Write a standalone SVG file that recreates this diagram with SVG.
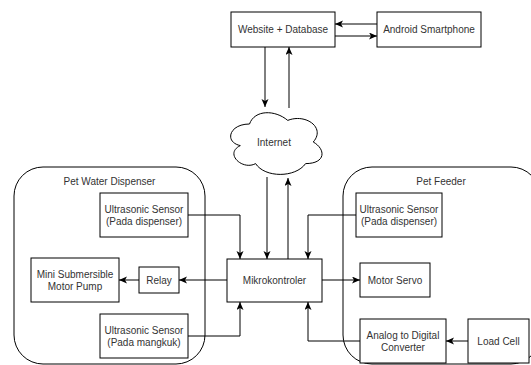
<svg xmlns="http://www.w3.org/2000/svg" width="531" height="365" viewBox="0 0 531 365">
<style>
.box{fill:#fff;stroke:#000;stroke-width:1}
.cont{fill:#fff;stroke:#000;stroke-width:1}
.t{font-family:"Liberation Sans",Arial,sans-serif;font-size:10px;fill:#333;text-anchor:middle;dominant-baseline:central}
.c{fill:none;stroke:#000;stroke-width:1;marker-end:url(#ah)}
</style>
<defs>
<marker id="ah" markerUnits="userSpaceOnUse" markerWidth="10" markerHeight="8" refX="8" refY="3.5" orient="auto">
<path d="M0,0 L8,3.5 L0,7 L2,3.5 z" fill="#000"/>
</marker>
</defs>
<rect width="531" height="365" fill="#fff"/>
<g id="pet-water-dispenser">
<rect class="cont" x="14" y="167" width="191" height="197" rx="29" ry="29"/>
<text class="t" x="109.5" y="181">Pet Water Dispenser</text>
</g>
<g id="pet-feeder">
<rect class="cont" x="343" y="167" width="197" height="197" rx="29" ry="29"/>
<text class="t" x="441" y="181">Pet Feeder</text>
</g>
<g id="connectors">
<path class="c" d="M377,24 L335,24"/>
<path class="c" d="M335,36 L377,36"/>
<path class="c" d="M265,47 L265,107"/>
<path class="c" d="M289,108 L289,47"/>
<path class="c" d="M267,177 L267,259"/>
<path class="c" d="M288,259 L288,178"/>
<path class="c" d="M188,215 L240,215 L240,259"/>
<path class="c" d="M188,336 L240,336 L240,302"/>
<path class="c" d="M227,280 L179,280"/>
<path class="c" d="M139,280 L119,280"/>
<path class="c" d="M356,215 L308,215 L308,259"/>
<path class="c" d="M322,280 L360,280"/>
<path class="c" d="M468,341 L446,341"/>
<path class="c" d="M360,341 L308,341 L308,302"/>
</g>
<g id="website">
<rect class="box" x="231" y="12" width="104" height="35"/>
<text class="t" x="283" y="29.5">Website + Database</text>
</g>
<g id="android">
<rect class="box" x="377" y="12" width="104" height="35"/>
<text class="t" x="429" y="29.5">Android Smartphone</text>
</g>
<g id="internet">
<path class="box" d="M249.5,124 C229.1,124 224,142 240.3,145.6 C224,153.5 242.4,170.8 255.6,163.6 C264.8,178 295.4,178 305.6,163.6 C326,163.6 326,149.2 313.25,142 C326,127.6 305.6,113.2 287.75,120.4 C275,109.6 254.6,109.6 249.5,124 Z"/>
<text class="t" x="274" y="142">Internet</text>
</g>
<g id="sensor-dispenser-left">
<rect class="box" x="100" y="193" width="88" height="44"/>
<text class="t" x="144" y="209.5">Ultrasonic Sensor</text>
<text class="t" x="144" y="221.5">(Pada dispenser)</text>
</g>
<g id="pump">
<rect class="box" x="31" y="258" width="88" height="44"/>
<text class="t" x="75" y="274.5">Mini Submersible</text>
<text class="t" x="75" y="286.5">Motor Pump</text>
</g>
<g id="relay">
<rect class="box" x="139" y="267" width="40" height="26"/>
<text class="t" x="159" y="280">Relay</text>
</g>
<g id="sensor-mangkuk">
<rect class="box" x="100" y="314" width="88" height="44"/>
<text class="t" x="144" y="330.5">Ultrasonic Sensor</text>
<text class="t" x="144" y="342.5">(Pada mangkuk)</text>
</g>
<g id="mikrokontroler">
<rect class="box" x="227" y="259" width="95" height="43"/>
<text class="t" x="274.5" y="280.5">Mikrokontroler</text>
</g>
<g id="sensor-dispenser-right">
<rect class="box" x="356" y="193" width="86" height="44"/>
<text class="t" x="399" y="209.5">Ultrasonic Sensor</text>
<text class="t" x="399" y="221.5">(Pada dispenser)</text>
</g>
<g id="servo">
<rect class="box" x="360" y="263" width="70" height="34"/>
<text class="t" x="395" y="280">Motor Servo</text>
</g>
<g id="adc">
<rect class="box" x="360" y="319" width="86" height="44"/>
<text class="t" x="403" y="335">Analog to Digital</text>
<text class="t" x="403" y="347">Converter</text>
</g>
<g id="load-cell">
<rect class="box" x="468" y="319" width="61" height="44"/>
<text class="t" x="498.5" y="341">Load Cell</text>
</g>
</svg>
